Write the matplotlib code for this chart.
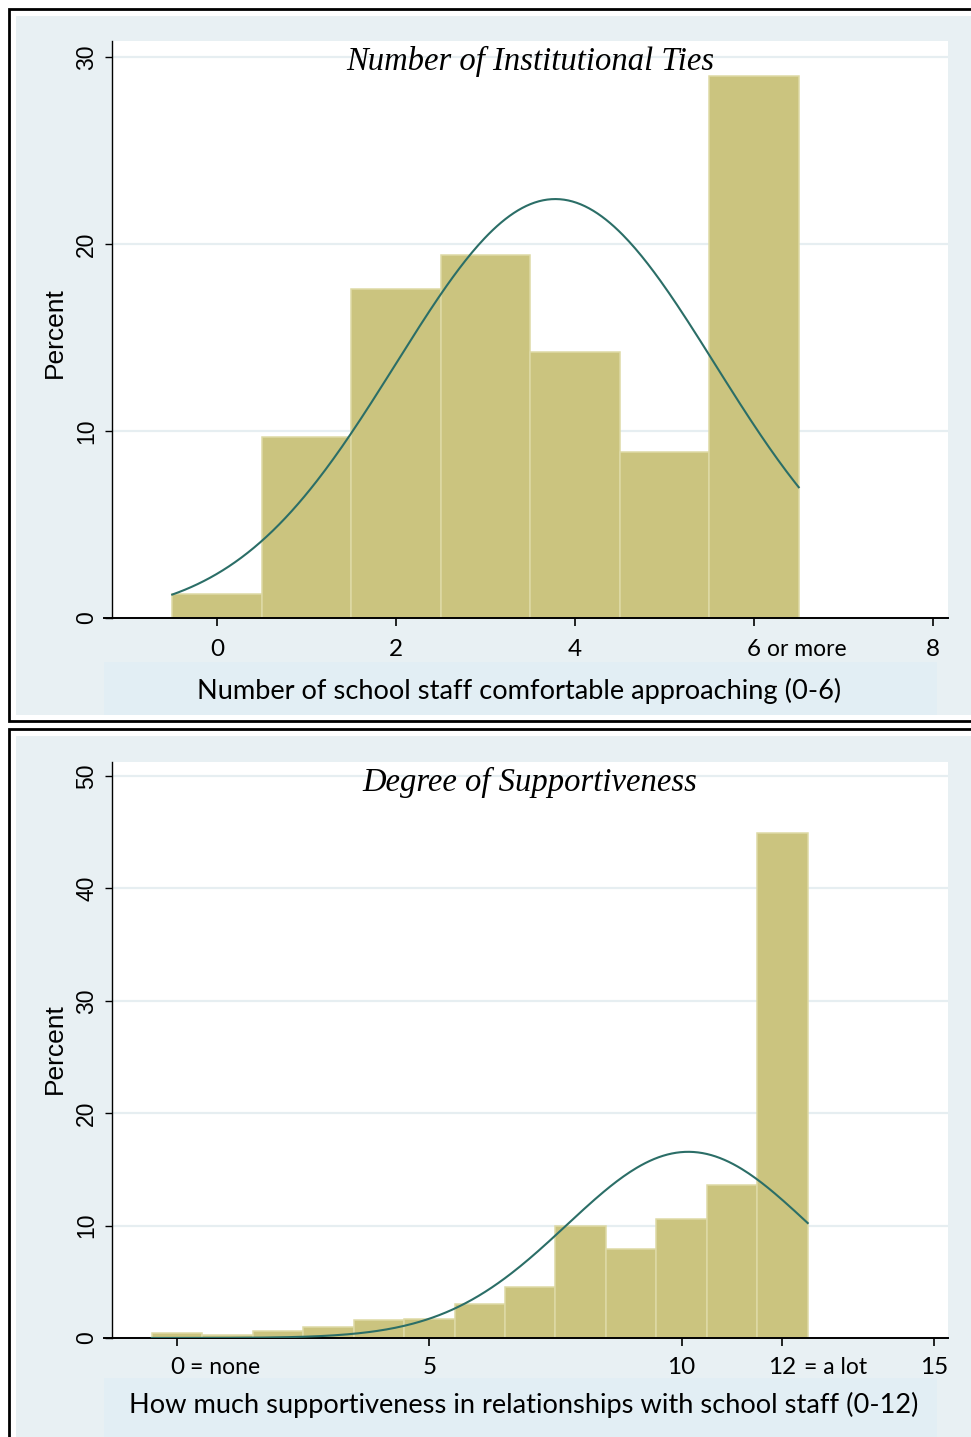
import numpy as np
import matplotlib.pyplot as plt
from matplotlib.patches import Rectangle
from matplotlib.lines import Line2D

# Porcentaje de alumnos por número de adultos del centro (0-6, "6 o más")
ties_vals = [0, 1, 2, 3, 4, 5, 6]
ties_pct = [1.3, 9.7, 17.6, 19.4, 14.2, 8.9, 29.0]
ties_ticks = [0, 2, 4, 6, 8]
ties_ticklabels = ["0", "2", "4", "6", "8"]
ties_suffix = ["", "", "", "or more", ""]
ties_yticks = [0, 10, 20, 30]

# Porcentaje por grado de apoyo percibido (0-12)
support_vals = [0, 1, 2, 3, 4, 5, 6, 7, 8, 9, 10, 11, 12]
support_pct = [0.42, 0.29, 0.65, 0.98, 1.57, 1.69, 3.0, 4.5, 10.0, 7.9, 10.6, 13.6, 44.9]
support_ticks = [0, 5, 10, 12, 15]
support_ticklabels = ["0", "5", "10", "12", "15"]
support_suffix = ["= none", "", "", "= a lot", ""]
support_yticks = [0, 10, 20, 30, 40, 50]

W, H = 971, 1437
BG = "#e8f0f3"
BAND = "#e2eef4"
BAR = "#cbc47f"
BAR_EDGE = "#dedaa6"
CURVE = "#2b6e67"
GRID = "#e6eef1"

SANS_X = ["Lato", "DejaVu Sans"]
SANS_Y = ["Liberation Sans", "DejaVu Sans"]
SERIF = ["Liberation Serif", "DejaVu Serif"]


def fx(px):
    return px / W


def fy(py):
    return 1 - py / H


fig = plt.figure(figsize=(W / 100, H / 100), dpi=100, facecolor="white")


def panel(top, bottom, band_top):
    # Marco negro, fondo gris azulado y franja del título del eje X
    fig.add_artist(Rectangle((fx(9), fy(bottom + 6)), fx(1100), (bottom + 6 - top) / H,
                             transform=fig.transFigure, facecolor="white",
                             edgecolor="black", lw=2.0, zorder=-12))
    fig.add_artist(Rectangle((fx(16), fy(bottom)), fx(1100), (bottom - top - 7) / H,
                             transform=fig.transFigure, facecolor=BG,
                             edgecolor="none", zorder=-11))
    fig.add_artist(Rectangle((fx(104), fy(bottom)), fx(833), (bottom - band_top) / H,
                             transform=fig.transFigure, facecolor=BAND,
                             edgecolor="none", zorder=-10))


def draw_hist(rect, vals, pct, xlim, ylim, ticks, ticklabels, suffix, yticks,
              title, title_y, xtitle, xtitle_x, xtitle_y, label_base, axis_px, mid_px):
    ax = fig.add_axes(rect)
    ax.set_facecolor("white")

    ax.bar(vals, pct, width=1.0, color=BAR, edgecolor=BAR_EDGE, linewidth=1.1, zorder=2)

    # Curva normal ajustada con la media y la desviación del histograma
    v = np.array(vals, dtype=float)
    p = np.array(pct, dtype=float)
    mu = np.sum(v * p) / np.sum(p)
    sd = np.sqrt(np.sum((v - mu) ** 2 * p) / np.sum(p))
    xs = np.linspace(v[0] - 0.5, v[-1] + 0.5, 300)
    ys = np.sum(p) / (sd * np.sqrt(2 * np.pi)) * np.exp(-0.5 * ((xs - mu) / sd) ** 2)
    ax.plot(xs, ys, color=CURVE, lw=1.5, zorder=3)

    ax.set_xlim(*xlim)
    ax.set_ylim(*ylim)

    ax.set_axisbelow(True)
    ax.set_yticks(yticks)
    ax.yaxis.grid(True, color=GRID, lw=1.6)
    ax.set_yticklabels([str(t) for t in yticks], fontfamily=SANS_Y, fontsize=16.5)
    for lbl in ax.get_yticklabels():
        lbl.set_rotation(90)
        lbl.set_va("center")
    ax.tick_params(axis="y", length=5, width=1.0, pad=5, colors="black")

    ax.set_xticks(ticks)
    ax.set_xticklabels([])
    ax.tick_params(axis="x", length=6, width=1.2, colors="black")

    # Etiquetas del eje X dibujadas a mano para poder añadir el texto pegado al número
    for t, lab, suf in zip(ticks, ticklabels, suffix):
        ax.text(t, label_base, lab, transform=ax.get_xaxis_transform(),
                ha="center", va="baseline", fontfamily=SANS_X, fontsize=17.5)
        if suf:
            off = 6.2 * len(lab) + 3
            ax.annotate(suf, xy=(t, label_base), xycoords=ax.get_xaxis_transform(),
                        xytext=(off, 0), textcoords="offset points",
                        ha="left", va="baseline", fontfamily=SANS_X, fontsize=16.5)

    for side in ["top", "right"]:
        ax.spines[side].set_visible(False)
    ax.spines["left"].set_linewidth(1.0)
    ax.spines["bottom"].set_linewidth(1.4)

    fig.text(fx(55), fy(mid_px), "Percent", rotation=90, ha="center", va="center",
             fontfamily=SANS_Y, fontsize=19)

    # Prolongación del eje X hacia la izquierda
    fig.add_artist(Line2D([fx(104), fx(112)], [fy(axis_px), fy(axis_px)],
                          transform=fig.transFigure, color="black", lw=1.4))

    fig.text(fx(530), fy(title_y), title, ha="center", va="center",
             fontfamily=SERIF, fontstyle="italic", fontsize=23.5)
    fig.text(fx(xtitle_x), fy(xtitle_y), xtitle, ha="center", va="center",
             fontfamily=SANS_X, fontsize=19.6)
    return ax


panel(9, 715, 662)
panel(729, 1437, 1378)

draw_hist([fx(112), fy(618), 836 / W, 577 / H], ties_vals, ties_pct,
          (-1.173, 8.168), (0, 30.86), ties_ticks, ties_ticklabels, ties_suffix,
          ties_yticks, "Number of Institutional Ties", 61,
          "Number of school staff comfortable approaching (0-6)", 519, 691,
          -0.065, 618, 333)

draw_hist([fx(112), fy(1338), 836 / W, 576 / H], support_vals, support_pct,
          (-1.288, 15.28), (0, 51.25), support_ticks, support_ticklabels, support_suffix,
          support_yticks, "Degree of Supportiveness", 782,
          "How much supportiveness in relationships with school staff (0-12)", 524, 1405,
          -0.062, 1338, 1049)

fig.savefig("out.png", dpi=100)
